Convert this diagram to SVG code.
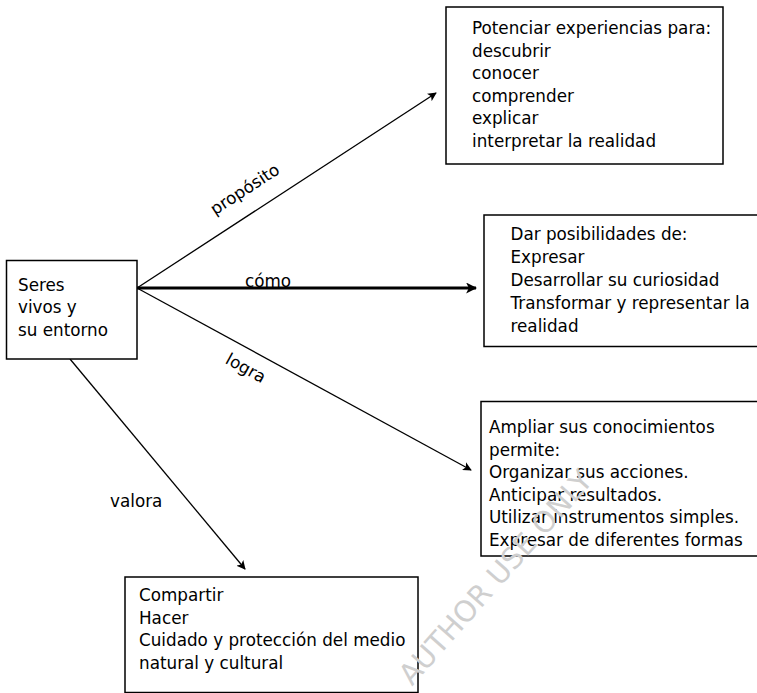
<svg xmlns="http://www.w3.org/2000/svg" width="757" height="693" viewBox="0 0 757 693">
<style>
.box{fill:#fff;stroke:#000;stroke-width:1.5}
.t{font-family:"DejaVu Sans",Verdana,sans-serif;font-size:16.8px;fill:#000}
.c{stroke:#000;stroke-width:1.3;fill:none}
.wm{font-family:"DejaVu Sans",Verdana,sans-serif;font-size:29px;fill:#cfcfcf}
</style>
<defs>
<marker id="ah" viewBox="0 0 10 10" refX="9" refY="5" markerWidth="9" markerHeight="9" markerUnits="userSpaceOnUse" orient="auto">
<path d="M0,0 L10,5 L0,10 L2.5,5 z" fill="#000"/>
</marker>
<marker id="ahb" viewBox="0 0 10 10" refX="9" refY="5" markerWidth="11" markerHeight="11" markerUnits="userSpaceOnUse" orient="auto">
<path d="M0,0 L10,5 L0,10 L2.5,5 z" fill="#000"/>
</marker>
</defs>
<rect width="757" height="693" fill="#fff"/>
<g id="connectors">
<line class="c" x1="137" y1="288" x2="436" y2="93" marker-end="url(#ah)"/>
<line class="c" x1="137" y1="288" x2="476" y2="288" style="stroke-width:3" marker-end="url(#ahb)"/>
<line class="c" x1="137" y1="288" x2="471" y2="470" marker-end="url(#ah)"/>
<line class="c" x1="70" y1="359" x2="245" y2="569" marker-end="url(#ah)"/>
<text class="t" transform="translate(248,194) rotate(-33)" text-anchor="middle">propósito</text>
<text class="t" x="245" y="287">cómo</text>
<text class="t" transform="translate(243,373) rotate(29)" text-anchor="middle">logra</text>
<text class="t" x="110" y="507">valora</text>
</g>
<g id="n-seres">
<rect class="box" x="6.5" y="260.5" width="130.5" height="98.5"/>
<text class="t" x="18" y="291">Seres</text>
<text class="t" x="18" y="313">vivos y</text>
<text class="t" x="18" y="336">su entorno</text>
</g>
<g id="n-potenciar">
<rect class="box" x="446" y="7" width="277" height="157"/>
<text class="t" x="472" y="34">Potenciar experiencias para:</text>
<text class="t" x="472" y="57">descubrir</text>
<text class="t" x="472" y="79">conocer</text>
<text class="t" x="472" y="102">comprender</text>
<text class="t" x="472" y="124">explicar</text>
<text class="t" x="472" y="147">interpretar la realidad</text>
</g>
<g id="n-dar">
<rect class="box" x="484" y="215" width="290" height="131.5"/>
<text class="t" x="510.5" y="240">Dar posibilidades de:</text>
<text class="t" x="510.5" y="263">Expresar</text>
<text class="t" x="510.5" y="286">Desarrollar su curiosidad</text>
<text class="t" x="510.5" y="309">Transformar y representar la</text>
<text class="t" x="510.5" y="332">realidad</text>
</g>
<g id="n-ampliar">
<rect class="box" x="481" y="401.5" width="290" height="154.5"/>
<text class="t" x="489" y="433">Ampliar sus conocimientos</text>
<text class="t" x="489" y="456">permite:</text>
<text class="t" x="489" y="478">Organizar sus acciones.</text>
<text class="t" x="489" y="501">Anticipar resultados.</text>
<text class="t" x="489" y="523">Utilizar instrumentos simples.</text>
<text class="t" x="489" y="546">Expresar de diferentes formas</text>
</g>
<g id="n-compartir">
<rect class="box" x="125" y="577" width="293" height="115.5"/>
<text class="t" x="139" y="601">Compartir</text>
<text class="t" x="139" y="624">Hacer</text>
<text class="t" x="139" y="646">Cuidado y protección del medio</text>
<text class="t" x="139" y="669">natural y cultural</text>
</g>
<text class="wm" transform="translate(503,584) rotate(-48.5)" text-anchor="middle">AUTHOR USE ONLY</text>
</svg>
